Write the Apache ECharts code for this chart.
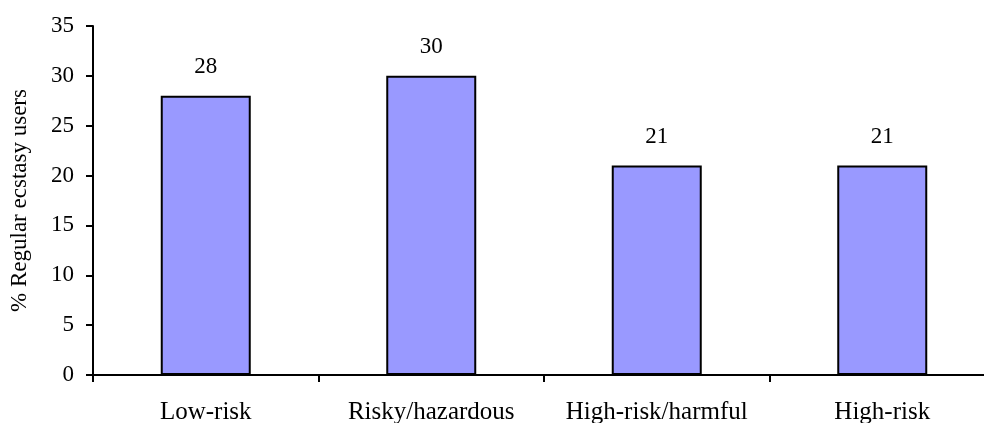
<!DOCTYPE html>
<html>
<head>
<meta charset="utf-8">
<script src="https://cdn.jsdelivr.net/npm/echarts@6/dist/echarts.min.js"></script>
<style>
  html, body { margin: 0; padding: 0; background: #fff; }
  #chart { width: 984px; height: 423px; }
</style>
</head>
<body>
<div id="chart"></div>
<script>
const categories = ["Low-risk", "Risky/hazardous", "High-risk/harmful", "High-risk"];
const values = [28, 30, 21, 21];
const yTitle = "% Regular ecstasy users";

const font = "'Liberation Serif', 'DejaVu Serif', serif";
const chart = echarts.init(document.getElementById("chart"));

chart.setOption({
  animation: false,
  grid: { left: 93, top: 26, width: 902, height: 349, outerBoundsMode: "none", containLabel: false },
  xAxis: {
    type: "category",
    data: categories,
    axisLine: { lineStyle: { color: "#000", width: 2 } },
    axisTick: { show: true, interval: 0, length: 7, lineStyle: { color: "#000", width: 2 } },
    axisLabel: { interval: 0, hideOverlap: false, color: "#000", fontFamily: font, fontSize: 25, margin: 25 },
  },
  yAxis: {
    type: "value",
    min: 0,
    max: 35,
    interval: 5,
    name: yTitle,
    nameLocation: "middle",
    nameRotate: 90,
    nameGap: 62,
    nameTextStyle: { color: "#000", fontFamily: font, fontSize: 23 },
    splitLine: { show: false },
    axisLine: { show: true, lineStyle: { color: "#000", width: 2 } },
    axisTick: { show: true, length: 7, lineStyle: { color: "#000", width: 2 } },
    axisLabel: { color: "#000", fontFamily: font, fontSize: 23, margin: 19 },
  },
  series: [
    {
      type: "bar",
      data: values,
      barWidth: 90,
      itemStyle: { color: "#9999FF", borderColor: "#000", borderWidth: 2 },
      label: {
        show: true,
        position: "top",
        distance: 17,
        color: "#000",
        fontFamily: font,
        fontSize: 23,
      },
    },
  ],
});
</script>
</body>
</html>
